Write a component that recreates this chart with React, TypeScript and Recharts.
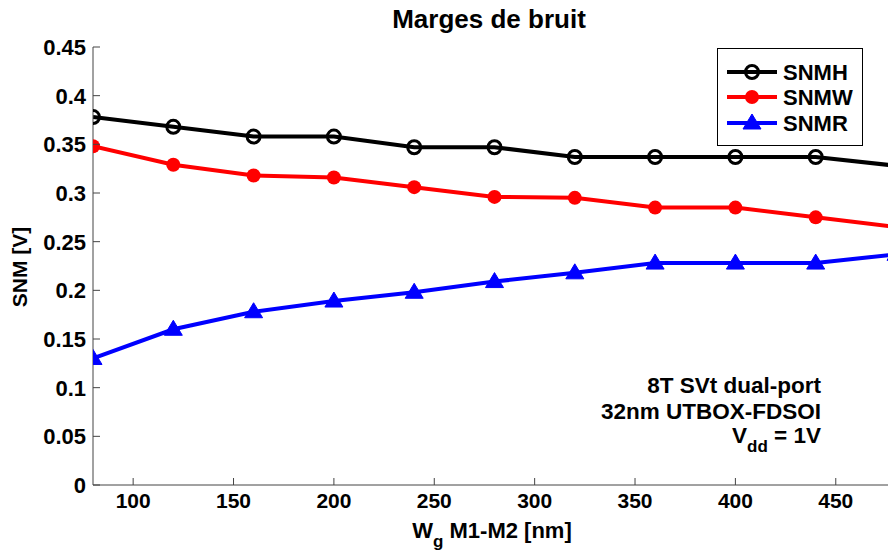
import React from 'react';
import { LineChart, Line, XAxis, YAxis, Legend } from 'recharts';

const xValues = [80, 120, 160, 200, 240, 280, 320, 360, 400, 440, 480];
const snmh = [0.378, 0.368, 0.358, 0.358, 0.347, 0.347, 0.337, 0.337, 0.337, 0.337, 0.328];
const snmw = [0.348, 0.329, 0.318, 0.316, 0.306, 0.296, 0.295, 0.285, 0.285, 0.275, 0.265];
const snmr = [0.130, 0.160, 0.178, 0.189, 0.198, 0.209, 0.218, 0.228, 0.228, 0.228, 0.237];
const xTicks = [100, 150, 200, 250, 300, 350, 400, 450];
const yTicks = [0, 0.05, 0.1, 0.15, 0.2, 0.25, 0.3, 0.35, 0.4, 0.45];
const seriesNames = ['SNMH', 'SNMW', 'SNMR'];
const seriesColors = ['#000000', '#ff0000', '#0000ff'];

const data = xValues.map((x, i) => ({ x, snmh: snmh[i], snmw: snmw[i], snmr: snmr[i] }));

const FONT = '"Liberation Sans", Arial, sans-serif';
const AXIS = '#444';

const fmtY = (v: number) => String(Math.round(v * 100) / 100);

const BottomTick = (p: any) => (
  <g>
    <line x1={p.x} x2={p.x} y1={p.y} y2={p.y - 7} stroke={AXIS} strokeWidth={1} />
    <text x={p.x} y={p.y + 23} textAnchor="middle" fontFamily={FONT} fontWeight="bold" fontSize={21} fill="#000">
      {p.payload.value}
    </text>
  </g>
);
const TopTick = (p: any) => (
  <line x1={p.x} x2={p.x} y1={p.y} y2={p.y + 7} stroke={AXIS} strokeWidth={1} />
);
const LeftTick = (p: any) => (
  <g>
    <line x1={p.x} x2={p.x + 7} y1={p.y} y2={p.y} stroke={AXIS} strokeWidth={1} />
    <text x={p.x - 7} y={p.y} dy="0.36em" textAnchor="end" fontFamily={FONT} fontWeight="bold" fontSize={22} fill="#000">
      {fmtY(p.payload.value)}
    </text>
  </g>
);
const RightTick = (p: any) => (
  <line x1={p.x} x2={p.x - 7} y1={p.y} y2={p.y} stroke={AXIS} strokeWidth={1} />
);

const Marker = ({ kind, cx, cy }: { kind: number; cx: number; cy: number }) => {
  if (kind === 0) return <circle cx={cx} cy={cy} r={6.5} fill="none" stroke="#000" strokeWidth={3} />;
  if (kind === 1) return <circle cx={cx} cy={cy} r={7} fill="#ff0000" stroke="none" />;
  return <path d={`M${cx},${cy - 9} L${cx + 9},${cy + 6} L${cx - 9},${cy + 6} Z`} fill="#0000ff" stroke="#0000ff" strokeWidth={1} />;
};

const makeDot = (kind: number) => (p: any) => (
  <Marker key={`d${kind}-${p.index}`} kind={kind} cx={p.cx} cy={p.cy} />
);

const LegendBox = () => (
  <div style={{ width: 146, height: 98, boxSizing: 'border-box', border: '1px solid #000', background: '#fff' }}>
    <svg width={144} height={96} style={{ display: 'block' }}>
      {seriesNames.map((name, i) => {
        const y = [23, 48, 74][i];
        return (
          <g key={name}>
            <line x1={9} x2={59} y1={y} y2={y} stroke={seriesColors[i]} strokeWidth={4} />
            <Marker kind={i} cx={34} cy={y} />
            <text x={65} y={y + 8} fontFamily={FONT} fontWeight="bold" fontSize={22} fill="#000">{name}</text>
          </g>
        );
      })}
    </svg>
  </div>
);

export default function App() {
  return (
    <div style={{ position: 'fixed', left: 0, top: 0, width: 888, height: 552, overflow: 'hidden', background: '#fff' }}>
      <LineChart width={920} height={552} data={data} margin={{ top: 47, right: 0, bottom: 0, left: 0 }}>
        <XAxis dataKey="x" type="number" domain={[80, 480]} ticks={xTicks} height={67} tickSize={0} tickMargin={0}
          tickLine={false} axisLine={{ stroke: AXIS }} tick={BottomTick} interval={0} allowDataOverflow />
        <XAxis xAxisId="top" orientation="top" dataKey="x" type="number" domain={[80, 480]} ticks={xTicks} height={0}
          tickSize={0} tickMargin={0} tickLine={false} axisLine={{ stroke: AXIS }} tick={TopTick} interval={0} allowDataOverflow />
        <YAxis type="number" domain={[0, 0.45]} ticks={yTicks} width={93} tickSize={0} tickMargin={0}
          tickLine={false} axisLine={{ stroke: AXIS }} tick={LeftTick} interval={0} allowDataOverflow />
        <YAxis yAxisId="right" orientation="right" type="number" domain={[0, 0.45]} ticks={yTicks} width={24} tickSize={0}
          tickMargin={0} tickLine={false} axisLine={{ stroke: AXIS }} tick={RightTick} interval={0} allowDataOverflow />
        <Line dataKey="snmh" name="SNMH" stroke="#000" strokeWidth={4} dot={makeDot(0)} activeDot={false} isAnimationActive={false} />
        <Line dataKey="snmw" name="SNMW" stroke="#ff0000" strokeWidth={4} dot={makeDot(1)} activeDot={false} isAnimationActive={false} />
        <Line dataKey="snmr" name="SNMR" stroke="#0000ff" strokeWidth={4} dot={makeDot(2)} activeDot={false} isAnimationActive={false} />
        <Legend layout="vertical" align="center" verticalAlign="middle" content={() => <LegendBox />}
          wrapperStyle={{ position: 'absolute', left: 717, top: 48, width: 146, height: 98, right: 'auto', bottom: 'auto', margin: 0 }} />
      </LineChart>
      <svg width={888} height={552} style={{ position: 'absolute', left: 0, top: 0, pointerEvents: 'none' }}>
        <text x={489} y={28} textAnchor="middle" fontFamily={FONT} fontWeight="bold" fontSize={26} fill="#000">Marges de bruit</text>
        <text transform="translate(27,267) rotate(-90)" textAnchor="middle" fontFamily={FONT} fontWeight="bold" fontSize={21} fill="#000">SNM [V]</text>
        <text x={492} y={538} textAnchor="middle" fontFamily={FONT} fontWeight="bold" fontSize={22} fill="#000">
          W<tspan fontSize={17} dy={9}>g</tspan><tspan dy={-9}> M1-M2 [nm]</tspan>
        </text>
        <g fontFamily={FONT} fontWeight="bold" fontSize={22.5} fill="#000" textAnchor="end">
          <text x={821} y={393}>8T SVt dual-port</text>
          <text x={821} y={419}>32nm UTBOX-FDSOI</text>
          <text x={821} y={443}>V<tspan fontSize={17} dy={9}>dd</tspan><tspan dy={-9}> = 1V</tspan></text>
        </g>
      </svg>
    </div>
  );
}
